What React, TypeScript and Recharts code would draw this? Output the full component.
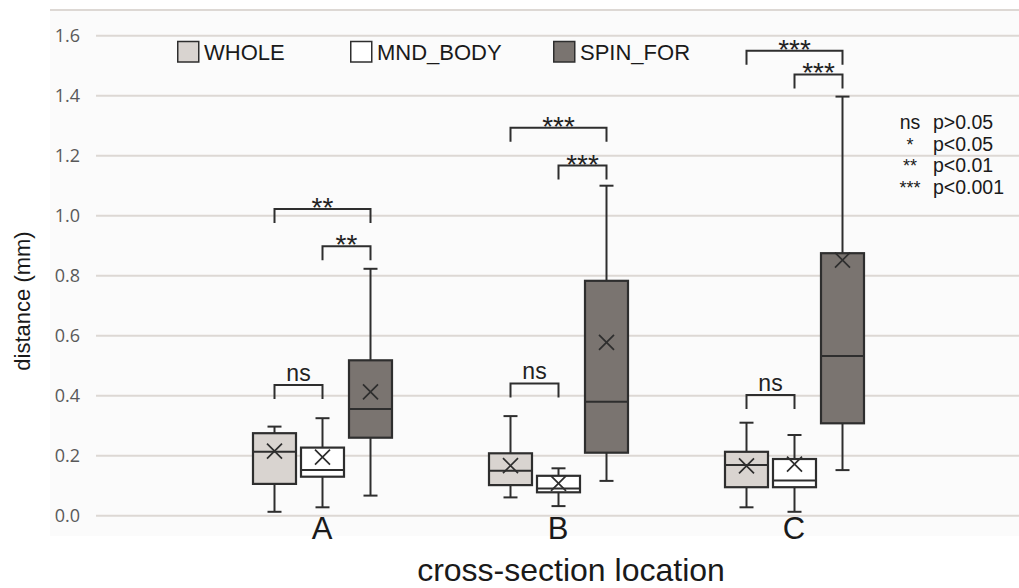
import { ComposedChart, Bar, XAxis, YAxis, CartesianGrid, Customized } from 'recharts'

const categories = ['A', 'B', 'C']

// five-number summary per location: [min, q1, median, q3, max]
const wholeBox = [
  [0.013, 0.106, 0.213, 0.275, 0.297],
  [0.061, 0.102, 0.15, 0.208, 0.332],
  [0.028, 0.095, 0.169, 0.213, 0.31],
]
const wholeMean = [0.215, 0.167, 0.166]

const mndBox = [
  [0.028, 0.13, 0.152, 0.227, 0.325],
  [0.032, 0.078, 0.091, 0.133, 0.158],
  [0.013, 0.095, 0.117, 0.189, 0.269],
]
const mndMean = [0.195, 0.108, 0.172]

const spinBox = [
  [0.067, 0.26, 0.356, 0.518, 0.823],
  [0.116, 0.21, 0.38, 0.783, 1.1],
  [0.152, 0.308, 0.532, 0.875, 1.397],
]
const spinMean = [0.413, 0.578, 0.852]

// significance brackets (bracket height in mm)
const outerLevel = [1.022, 1.293, 1.55] // WHOLE vs SPIN_FOR
const outerMark = ['**', '***', '***']
const innerLevel = [0.898, 1.167, 1.471] // MND_BODY vs SPIN_FOR
const innerMark = ['**', '***', '***']
const nsLevel = [0.436, 0.441, 0.402] // WHOLE vs MND_BODY
const nsMark = ['ns', 'ns', 'ns']

const sigSymbols = ['ns', '*', '**', '***']
const sigText = ['p>0.05', 'p<0.05', 'p<0.01', 'p<0.001']

const yTicks = [0, 0.2, 0.4, 0.6, 0.8, 1.0, 1.2, 1.4, 1.6]

const seriesNames = ['WHOLE', 'MND_BODY', 'SPIN_FOR']
const seriesFill = ['#d9d4d0', '#ffffff', '#7a7470']

const INK = '#2e2e2e'
const FONT = 'Liberation Sans, Arial, sans-serif'
const BAR_SIZE = 43
const BAR_GAP = 5
const LEG = 14
const CAP = 7
const CROSS = 7.5

const rows = categories.map((cat, i) => ({
  cat,
  WHOLE: [wholeBox[i][0], wholeBox[i][4]],
  MND_BODY: [mndBox[i][0], mndBox[i][4]],
  SPIN_FOR: [spinBox[i][0], spinBox[i][4]],
}))

function bracket(x1: number, x2: number, yLine: number, mark: string, key: string) {
  const isNs = mark === 'ns'
  return (
    <g key={key}>
      <path
        d={`M${x1},${yLine + LEG} V${yLine} H${x2} V${yLine + LEG}`}
        fill="none"
        stroke={INK}
        strokeWidth={2}
      />
      <text
        x={(x1 + x2) / 2}
        y={isNs ? yLine - 4 : yLine + 8}
        textAnchor="middle"
        fontFamily={FONT}
        fontSize={isNs ? 23 : 28}
        fill="#222"
      >
        {mark}
      </text>
    </g>
  )
}

function makeBoxShape(box: number[][], mean: number[], fill: string, role: 'plain' | 'mnd' | 'spin') {
  return (props: any) => {
    const { x, y, width, height, payload } = props
    const i = categories.indexOf(payload.cat)
    const [lo, q1, med, q3, hi] = box[i]
    // whisker bar spans [lo, hi]; map any value linearly within it
    const py = (v: number) => y + (height * (hi - v)) / (hi - lo)
    const cx = x + width / 2
    const my = py(mean[i])
    const step = width + BAR_GAP
    return (
      <g>
        <line x1={cx} x2={cx} y1={py(hi)} y2={py(q3)} stroke={INK} strokeWidth={2} />
        <line x1={cx} x2={cx} y1={py(q1)} y2={py(lo)} stroke={INK} strokeWidth={2} />
        <line x1={cx - CAP} x2={cx + CAP} y1={py(hi)} y2={py(hi)} stroke={INK} strokeWidth={2} />
        <line x1={cx - CAP} x2={cx + CAP} y1={py(lo)} y2={py(lo)} stroke={INK} strokeWidth={2} />
        <rect x={x} y={py(q3)} width={width} height={py(q1) - py(q3)} fill={fill} stroke={INK} strokeWidth={2.2} />
        <line x1={x} x2={x + width} y1={py(med)} y2={py(med)} stroke={INK} strokeWidth={2} />
        <path
          d={`M${cx - CROSS},${my - CROSS} L${cx + CROSS},${my + CROSS} M${cx - CROSS},${my + CROSS} L${cx + CROSS},${my - CROSS}`}
          stroke={INK}
          strokeWidth={1.7}
        />
        {role === 'mnd' && bracket(cx - step, cx, py(nsLevel[i]), nsMark[i], 'ns')}
        {role === 'spin' && bracket(cx - 2 * step, cx, py(outerLevel[i]), outerMark[i], 'outer')}
        {role === 'spin' && bracket(cx - step, cx, py(innerLevel[i]), innerMark[i], 'inner')}
      </g>
    )
  }
}

const wholeShape = makeBoxShape(wholeBox, wholeMean, seriesFill[0], 'plain')
const mndShape = makeBoxShape(mndBox, mndMean, seriesFill[1], 'mnd')
const spinShape = makeBoxShape(spinBox, spinMean, seriesFill[2], 'spin')

const legendX = [177, 350, 553]

function Annotations() {
  return (
    <g fontFamily={FONT}>
      {seriesNames.map((name, i) => (
        <g key={name}>
          <rect x={legendX[i] + 0.75} y={41.5} width={21} height={20.5} fill={seriesFill[i]} stroke={INK} strokeWidth={1.5} />
          <text x={legendX[i] + 27} y={60} fontSize={22} fill="#1a1a1a">
            {name}
          </text>
        </g>
      ))}
      {sigSymbols.map((s, i) => (
        <g key={s}>
          <text x={910} y={129 + i * 21.5} textAnchor="middle" fontSize={s === 'ns' ? 19.5 : 18} fill="#1a1a1a">
            {s}
          </text>
          <text x={933} y={129 + i * 21.5} fontSize={19.5} fill="#1a1a1a">
            {sigText[i]}
          </text>
        </g>
      ))}
      <text transform="translate(30,301) rotate(-90)" textAnchor="middle" fontSize={22} fill="#1a1a1a">
        distance (mm)
      </text>
      <text x={571} y={581} textAnchor="middle" fontSize={32} fill="#1a1a1a">
        cross-section location
      </text>
    </g>
  )
}

export default function App() {
  return (
    <div style={{ position: 'absolute', left: 0, top: 0, width: 1019, height: 588, background: '#fff' }}>
      <div
        style={{
          position: 'absolute',
          left: 50,
          top: 9,
          width: 969,
          height: 525,
          background: '#fbfbfb',
          borderTop: '2px solid #ddd8d4',
        }}
      />
      <div style={{ position: 'absolute', left: 0, top: 0 }}>
        <ComposedChart
          width={1019}
          height={588}
          data={rows}
          margin={{ top: 35.7, right: 0, bottom: 0, left: 0 }}
          barSize={BAR_SIZE}
          barGap={BAR_GAP}
        >
          <CartesianGrid vertical={false} stroke="#ddd8d4" strokeWidth={2} />
          <XAxis
            dataKey="cat"
            height={72.3}
            padding={{ left: 108, right: 107 }}
            axisLine={false}
            tickLine={false}
            tickSize={0}
            tickMargin={1}
            interval={0}
            tick={{ fontSize: 31, fill: '#1a1a1a', fontFamily: FONT }}
          />
          <YAxis
            width={96}
            domain={[0, 1.6]}
            ticks={yTicks}
            tickFormatter={(v: number) => v.toFixed(1)}
            axisLine={false}
            tickLine={false}
            tickSize={0}
            tickMargin={16}
            tick={{ fontSize: 18, fill: '#595959', fontFamily: 'Open Sans' }}
          />
          <Bar dataKey="WHOLE" name="WHOLE" fill={seriesFill[0]} shape={wholeShape} isAnimationActive={false} />
          <Bar dataKey="MND_BODY" name="MND_BODY" fill={seriesFill[1]} shape={mndShape} isAnimationActive={false} />
          <Bar dataKey="SPIN_FOR" name="SPIN_FOR" fill={seriesFill[2]} shape={spinShape} isAnimationActive={false} />
          <Customized component={<Annotations />} />
        </ComposedChart>
      </div>
    </div>
  )
}
